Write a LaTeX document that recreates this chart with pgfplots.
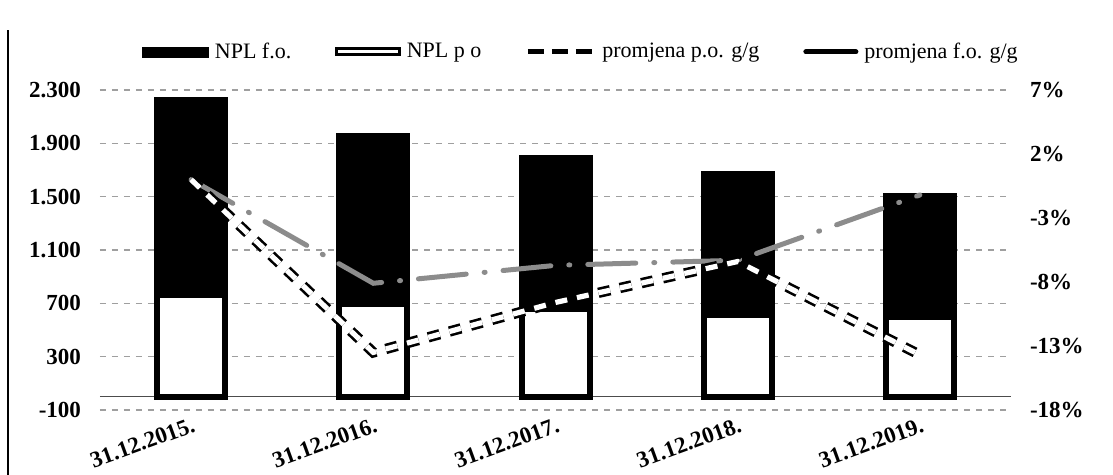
\documentclass[border=0pt]{standalone}
\usepackage{fontspec}
\setmainfont{Liberation Serif}
\usepackage{pgfplots}
\pgfplotsset{compat=1.18}

\begin{document}
\begin{tikzpicture}[font=\fontsize{11}{13}\selectfont]
\useasboundingbox (-50pt,-32.5pt) rectangle (506.5pt,205pt);
\draw[line width=0.8pt] (-46pt,-32.5pt) -- (-46pt,190pt);

\begin{axis}[
  at={(0pt,0pt)}, anchor=south west,
  width=455.5pt, height=160pt, scale only axis,
  xmin=-0.5, xmax=4.5, ymin=-100, ymax=2300,
  ybar stacked, bar width=34pt,
  axis line style={draw=none}, tick style={draw=none},
  xtick={0,1,2,3,4},
  xticklabels={31.12.2015.,31.12.2016.,31.12.2017.,31.12.2018.,31.12.2019.},
  xticklabel style={rotate=20, anchor=north east, font=\fontsize{11.5}{13}\selectfont\bfseries, inner sep=1pt, yshift=-2pt},
  ytick={-100,300,700,1100,1500,1900,2300},
  yticklabels={-100,300,700,1.100,1.500,1.900,2.300},
  yticklabel style={font=\fontsize{11.5}{13}\selectfont\bfseries, xshift=-6pt},
  ymajorgrids, grid style={gray!75, dashed, line width=0.6pt},
  extra y ticks={0}, extra y tick labels={},
  extra y tick style={grid style={solid, black!70, line width=0.8pt}},
  legend style={at={(0.529,1.119)}, anchor=center, draw=none, fill=none,
    legend columns=4, font=\fontsize{11}{13}\selectfont,
    /tikz/every odd column/.append style={column sep=1pt},
    /tikz/every even column/.append style={column sep=20pt}},
  legend cell align=left,
]
\addlegendimage{legend image code/.code={\fill[black] (0pt,-2.5pt) rectangle (33pt,2.5pt);}}
\addlegendentry{NPL f.o.}
\addlegendimage{legend image code/.code={\draw[black, line width=1.5pt, fill=white] (0.75pt,-1.5pt) rectangle (32pt,1.5pt);}}
\addlegendentry{NPL p o}
\addlegendimage{legend image code/.code={\draw[black, line width=2.5pt, dash pattern=on 8pt off 4pt] (0pt,0pt) -- (33pt,0pt);}}
\addlegendentry{promjena p.o. g/g}
\addlegendimage{legend image code/.code={\draw[black, line width=2.5pt, line cap=round] (2pt,0pt) -- (27pt,0pt);}}
\addlegendentry{promjena f.o. g/g}

% NPL p.o. (bottom)
\addplot[draw=black, line width=3pt, fill=white] coordinates {(0,760) (1,695) (2,655) (3,610) (4,595)};
% NPL f.o. (top)
\addplot[draw=black, line width=3pt, fill=black] coordinates {(0,1465) (1,1260) (2,1135) (3,1060) (4,910)};
\end{axis}

\begin{axis}[
  at={(0pt,0pt)}, anchor=south west,
  width=455.5pt, height=160pt, scale only axis,
  xmin=-0.5, xmax=4.5, ymin=-18, ymax=7,
  axis x line=none, axis y line*=right,
  axis line style={draw=none}, tick style={draw=none},
  ytick={-18,-13,-8,-3,2,7},
  yticklabels={-18\%,-13\%,-8\%,-3\%,2\%,7\%},
  yticklabel style={font=\fontsize{11.5}{13}\selectfont\bfseries, xshift=6pt},
]
% promjena f.o. g/g
\addplot[black!45, line width=2.5pt, line cap=round, dash pattern=on 24pt off 9pt on 0.5pt off 9pt]
  coordinates {(0,0.0) (1,-8.1) (2,-6.7) (3,-6.3) (4,-1.2)};
% promjena p.o. g/g
\addplot[black, line width=1.3pt, double=white, double distance=2.6pt, dash pattern=on 6pt off 5pt]
  coordinates {(0,0.0) (1,-13.5) (2,-9.6) (3,-6.4) (4,-13.7)};
\end{axis}
\end{tikzpicture}
\end{document}
